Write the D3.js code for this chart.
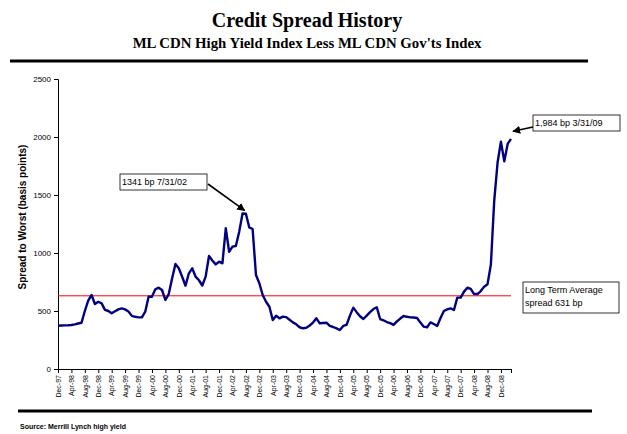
<!DOCTYPE html>
<html>
<head>
<meta charset="utf-8">
<script src="https://cdn.jsdelivr.net/npm/d3@7"></script>
<style>
  body { margin: 0; background: #fff; }
  svg { display: block; }
  text { font-family: "Liberation Sans", Arial, sans-serif; }
</style>
</head>
<body>
<svg id="chart" width="627" height="434"></svg>
<script>
// monthly spread, Dec-97 .. Mar-09 (bp)
var spread = [
  373, 375, 376, 377, 379, 385, 392, 399, 500, 590, 638, 560,
  580, 566, 510, 500, 480, 498, 514, 523, 514, 495, 458, 450,
  445, 445, 494, 623, 623, 687, 701, 681, 595, 646, 780, 905,
  868, 795, 718, 825, 868, 796, 765, 720, 796, 974, 935, 902,
  925, 911, 1213, 1011, 1055, 1060, 1184, 1341, 1338, 1221, 1207, 810,
  739, 638, 580, 537, 422, 459, 437, 451, 447, 425, 402, 385,
  360, 351, 356, 375, 400, 437, 394, 397, 399, 371, 362, 350,
  336, 371, 380, 460, 529, 490, 455, 431, 460, 490, 517, 532,
  431, 420, 405, 395, 380, 410, 435, 457, 450, 445, 444, 440,
  400, 365, 360, 402, 388, 371, 440, 500, 514, 523, 509, 615,
  615, 667, 701, 690, 646, 646, 672, 710, 730, 900, 1450, 1780,
  1960, 1790, 1940, 1984
];
var tickLabels = [
  'Dec-97', 'Apr-98', 'Aug-98', 'Dec-98', 'Apr-99', 'Aug-99', 'Dec-99',
  'Apr-00', 'Aug-00', 'Dec-00', 'Apr-01', 'Aug-01', 'Dec-01',
  'Apr-02', 'Aug-02', 'Dec-02', 'Apr-03', 'Aug-03', 'Dec-03',
  'Apr-04', 'Aug-04', 'Dec-04', 'Apr-05', 'Aug-05', 'Dec-05',
  'Apr-06', 'Aug-06', 'Dec-06', 'Apr-07', 'Aug-07', 'Dec-07',
  'Apr-08', 'Aug-08', 'Dec-08'
];
var yTicks = [0, 500, 1000, 1500, 2000, 2500];
var average = 631;
var peak2002 = { idx: 55, value: 1341, label: '1341 bp 7/31/02' };
var last2009 = { idx: 135, value: 1984, label: '1,984 bp 3/31/09' };
var avgLabel = ['Long Term Average', 'spread 631 bp'];

var svg = d3.select('#chart');

var x = d3.scaleLinear().domain([0, spread.length - 1]).range([58, 511]);
var y = d3.scaleLinear().domain([0, 2500]).range([369, 79]);

// titles
svg.append('text').attr('x', 307).attr('y', 27).attr('text-anchor', 'middle')
   .style('font-family', '"Liberation Serif", "Times New Roman", serif')
   .style('font-weight', 'bold').style('font-size', '20px')
   .text('Credit Spread History');
svg.append('text').attr('x', 307).attr('y', 48).attr('text-anchor', 'middle')
   .style('font-family', '"Liberation Serif", "Times New Roman", serif')
   .style('font-weight', 'bold').style('font-size', '14.8px')
   .text("ML CDN High Yield Index Less ML CDN Gov'ts Index");
svg.append('line').attr('x1', 10).attr('x2', 588).attr('y1', 61).attr('y2', 61)
   .attr('stroke', '#000').attr('stroke-width', 3);
svg.append('line').attr('x1', 18).attr('x2', 592).attr('y1', 411).attr('y2', 411)
   .attr('stroke', '#000').attr('stroke-width', 3);
svg.append('text').attr('x', 20).attr('y', 429)
   .style('font-weight', 'bold').style('font-size', '7px')
   .text('Source: Merrill Lynch high yield');

// y axis
var yAxis = svg.append('g').attr('transform', 'translate(58,0)')
   .call(d3.axisLeft(y).tickValues(yTicks).tickSize(4).tickPadding(3).tickFormat(d3.format('d')));
yAxis.select('.domain').attr('stroke', '#000');
yAxis.selectAll('text').style('font-size', '8px').attr('fill', '#000');

svg.append('text')
   .attr('transform', 'translate(26,217) rotate(-90)')
   .attr('text-anchor', 'middle')
   .style('font-weight', 'bold').style('font-size', '10px')
   .text('Spread to Worst (basis points)');

// x axis
var tickIdx = tickLabels.map(function(d, i) { return i * 4; });
var xAxis = svg.append('g').attr('transform', 'translate(0,369)')
   .call(d3.axisBottom(x).tickValues(tickIdx.concat([spread.length - 1]))
        .tickSize(4).tickSizeOuter(0)
        .tickFormat(function(d) { return d % 4 === 0 ? tickLabels[d / 4] : ''; }));
xAxis.select('.domain').attr('stroke', '#000');
xAxis.selectAll('text')
   .style('font-size', '7px').attr('fill', '#000')
   .attr('text-anchor', 'end')
   .attr('transform', 'rotate(-90)')
   .attr('x', -6).attr('y', 0).attr('dy', '0.32em');

// long term average
svg.append('line').attr('x1', x(0)).attr('x2', x(spread.length - 1))
   .attr('y1', y(average)).attr('y2', y(average))
   .attr('stroke', '#ff0000').attr('stroke-width', 1);

// spread line
svg.append('path').datum(spread)
   .attr('fill', 'none').attr('stroke', '#000080').attr('stroke-width', 2.4)
   .attr('stroke-linejoin', 'round')
   .attr('d', d3.line().x(function(d, i) { return x(i); }).y(function(d) { return y(d); }));

// annotations
svg.append('defs').append('marker').attr('id', 'arr')
   .attr('viewBox', '0 0 10 10').attr('refX', 9).attr('refY', 5)
   .attr('markerWidth', 5).attr('markerHeight', 5).attr('orient', 'auto')
   .append('path').attr('d', 'M0,0L10,5L0,10z').attr('fill', '#000');

function callout(bx, by, bw, bh, lines) {
  svg.append('rect').attr('x', bx).attr('y', by).attr('width', bw).attr('height', bh)
     .attr('fill', '#fff').attr('stroke', '#000').attr('stroke-width', 0.8);
  lines.forEach(function(t, i) {
    svg.append('text').attr('x', bx + 2).attr('y', by + 11 + i * 13)
       .style('font-size', '9px').text(t);
  });
}
function arrow(x1, y1, d) {
  svg.append('line').attr('x1', x1).attr('y1', y1)
     .attr('x2', x(d.idx) + 2).attr('y2', y(d.value) - 3)
     .attr('stroke', '#000').attr('stroke-width', 1.6).attr('marker-end', 'url(#arr)');
}

arrow(208, 184, peak2002);
callout(120, 174, 87, 16, [peak2002.label]);

arrow(533, 127, { idx: last2009.idx, value: last2009.value + 40 });
callout(533, 115, 87, 16, [last2009.label]);

callout(523, 282, 96, 31, avgLabel);
</script>
</body>
</html>
